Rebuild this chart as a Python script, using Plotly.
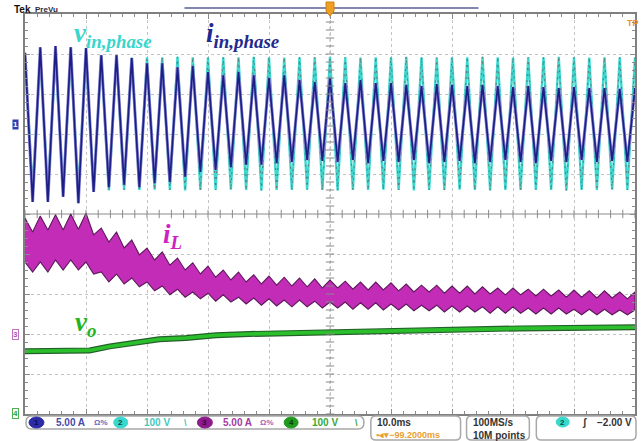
import numpy as np
import plotly.graph_objects as go

# ---------------- data ----------------
# time base 10 ms/div (0..100 ms); input is 400 Hz -> extrema every 1.25 ms
PERIOD = 2.5  # ms
t_pk = [PERIOD * k for k in range(41)]          # times of positive peaks
t_tr = [PERIOD * k + PERIOD / 2 for k in range(40)]  # times of negative peaks

# ch2: v_in,phase (V), peaks / troughs per cycle
vin_pk = [166, 167, 167, 166, 167, 168, 167, 166, 167, 167, 168, 167, 166, 167,
          167, 168, 167, 166, 167, 167, 168, 167, 166, 167, 167, 168, 167, 166,
          167, 167, 168, 167, 166, 167, 167, 168, 167, 166, 167, 167, 166]
vin_tr = [-165, -166, -165, -164, -165, -166, -165, -165, -164, -165, -166, -165,
          -165, -164, -165, -166, -165, -165, -164, -165, -166, -165, -165, -164,
          -165, -166, -165, -165, -164, -165, -166, -165, -165, -164, -165, -166,
          -165, -165, -164, -165]

# ch1: i_in,phase (A)
iin_pk = [8.9, 9.6, 9.75, 9.6, 9.5, 8.6, 8.6, 8.25, 7.6, 7.6, 7.1, 7.25, 6.5, 6.1,
          6.5, 6.1, 5.75, 6.1, 5.5, 5.25, 5.75, 5.1, 5.5, 5.1, 5.1, 4.9, 4.75, 5.0,
          4.9, 4.75, 4.9, 4.75, 4.6, 4.75, 4.6, 4.5, 4.6, 4.5, 4.5, 4.4, 4.5]
iin_tr = [-9.75, -9.75, -9.1, -9.9, -8.5, -7.9, -7.6, -7.9, -7.4, -7.25, -6.6, -6.0,
          -5.75, -5.4, -5.1, -5.1, -4.9, -4.75, -4.5, -4.6, -4.75, -4.5, -4.9, -4.6,
          -4.75, -4.5, -4.9, -4.75, -4.6, -4.9, -4.75, -4.5, -4.75, -4.9, -4.6, -4.75,
          -4.5, -4.75, -4.6, -4.75]

# ch3: i_L (A) ripple band: top/bottom edge at ripple highs and lows
iL_top_pk = [14.5, 14.75, 14.9, 15.0, 15.1, 13.25, 12.75, 11.75, 10.75, 10.25, 9.5,
             8.9, 8.5, 8.0, 7.75, 7.4, 7.25, 7.1, 7.0, 6.9, 6.75, 6.6, 6.5, 6.5, 6.4,
             6.25, 6.1, 6.1, 6.0, 6.0, 5.9, 5.75, 5.75, 5.6, 5.6, 5.5, 5.5, 5.4, 5.4,
             5.25, 5.25]
iL_top_dip = [12.75, 13.0, 13.0, 13.1, 12.4, 11.5, 10.75, 9.9, 9.25, 8.6, 8.0, 7.5,
              7.1, 6.75, 6.5, 6.25, 6.1, 6.0, 5.9, 5.75, 5.75, 5.6, 5.5, 5.5, 5.4,
              5.25, 5.25, 5.1, 5.1, 5.0, 5.0, 4.9, 4.9, 4.75, 4.75, 4.6, 4.6, 4.5,
              4.5, 4.4]
iL_bot_pk = [9.0, 9.0, 9.25, 9.25, 9.0, 7.75, 7.5, 7.0, 6.5, 6.0, 5.6, 5.25, 5.1, 4.9,
             4.6, 4.5, 4.4, 4.25, 4.25, 4.1, 4.0, 4.0, 3.9, 3.9, 3.75, 3.75, 3.6, 3.6,
             3.5, 3.5, 3.4, 3.4, 3.4, 3.25, 3.25, 3.25, 3.1, 3.1, 3.1, 3.0, 3.0]
iL_bot_dip = [7.75, 7.75, 8.0, 8.0, 7.5, 6.5, 6.25, 5.9, 5.4, 4.9, 4.6, 4.4, 4.1, 4.0,
              3.75, 3.6, 3.5, 3.4, 3.4, 3.25, 3.25, 3.1, 3.1, 3.0, 3.0, 2.9, 2.9, 2.75,
              2.75, 2.75, 2.6, 2.6, 2.6, 2.5, 2.5, 2.5, 2.4, 2.4, 2.4, 2.4]

# ch4: v_o (V)
vo_t = [0, 10.6, 13.9, 17.6, 22.0, 26.4, 31.3, 36.7, 42.1, 48.1, 64.8, 81.1, 100]
vo_v = [155, 157, 167, 175, 185, 188, 195, 198, 200, 202, 207, 212, 215]

# scope channel settings (scale per div, ground position in div)
CH1_SCALE, CH1_POS = 5.0, 2.25
CH2_SCALE, CH2_POS = 100.0, 2.25
CH3_SCALE, CH3_POS = 5.0, -3.0
CH4_SCALE, CH4_POS = 100.0, -4.98

# ---------------- helpers ----------------
def interleave(a, b):
    out = []
    for i in range(len(a)):
        out.append(a[i])
        if i < len(b):
            out.append(b[i])
    return out

t_all = interleave(t_pk, t_tr)
vin = interleave(vin_pk, vin_tr)
iin = interleave(iin_pk, iin_tr)
iL_top = interleave(iL_top_pk, iL_top_dip)
iL_bot = interleave(iL_bot_pk, iL_bot_dip)

L, R, T, B = 25, 637, 14, 414
def px(x):
    return (x - L) / (R - L)
def py(y):
    return (B - y) / (B - T)

fig = go.Figure()

# ch2 v_in (cyan, dotted look)
y_vin = [CH2_POS + v / CH2_SCALE for v in vin]
fig.add_trace(go.Scatter(x=t_all, y=y_vin, mode="lines",
                         line=dict(color="#3fd8cf", width=2.4), hoverinfo="skip"))
fig.add_trace(go.Scatter(x=t_all, y=y_vin, mode="lines",
                         line=dict(color="#4f8583", width=1.1, dash="2px,4px"), hoverinfo="skip"))

# ch1 i_in (dark blue)
y_iin = [CH1_POS + v / CH1_SCALE for v in iin]
fig.add_trace(go.Scatter(x=t_all, y=y_iin, mode="lines",
                         line=dict(color="#8c86d0", width=3.0), hoverinfo="skip"))
fig.add_trace(go.Scatter(x=t_all, y=y_iin, mode="lines",
                         line=dict(color="#1b1f86", width=1.7), hoverinfo="skip"))

# ch3 i_L band
band_x = t_all + t_all[::-1]
band_y = [CH3_POS + v / CH3_SCALE for v in iL_top] + \
         [CH3_POS + v / CH3_SCALE for v in iL_bot][::-1]
fig.add_trace(go.Scatter(x=band_x, y=band_y, mode="lines", fill="toself",
                         fillcolor="#c22cb6", line=dict(color="#5c1a5a", width=1.1),
                         hoverinfo="skip"))

# ch4 v_o
y_vo = [CH4_POS + v / CH4_SCALE for v in vo_v]
fig.add_trace(go.Scatter(x=vo_t, y=y_vo, mode="lines",
                         line=dict(color="#24602a", width=6), hoverinfo="skip"))
fig.add_trace(go.Scatter(x=vo_t, y=y_vo, mode="lines",
                         line=dict(color="#2bbf2b", width=3.6), hoverinfo="skip"))

# center-line ticks
tx = np.arange(0, 100.01, 2)
fig.add_trace(go.Scatter(x=tx, y=[0] * len(tx), mode="markers", cliponaxis=False,
                         marker=dict(symbol="line-ns", size=6,
                                     line=dict(color="#8a8a8a", width=1)),
                         hoverinfo="skip"))
ty = np.arange(-5, 5.01, 0.2)
fig.add_trace(go.Scatter(x=[50] * len(ty), y=ty, mode="markers", cliponaxis=False,
                         marker=dict(symbol="line-ew", size=6,
                                     line=dict(color="#8a8a8a", width=1)),
                         hoverinfo="skip"))

shapes = [
    dict(type="line", xref="x", yref="y", x0=0, x1=100, y0=0, y1=0,
         line=dict(color="#8a8a8a", width=1), layer="below"),
    dict(type="line", xref="x", yref="y", x0=50, x1=50, y0=-5, y1=5,
         line=dict(color="#b0b0b0", width=1, dash="dot"), layer="below"),
    # record-view bar at top
    dict(type="line", xref="paper", yref="paper", x0=px(185), x1=px(480),
         y0=py(8), y1=py(8), line=dict(color="#8088b0", width=2)),
    # trigger position marker
    dict(type="path", xref="paper", yref="paper",
         path=f"M {px(327)},{py(2)} L {px(335)},{py(2)} L {px(335)},{py(11)} "
              f"L {px(331)},{py(16)} L {px(327)},{py(11)} Z",
         fillcolor="#f0a020", line=dict(color="#d08010", width=1)),
]

def rrect(x0, y0, x1, y1, r, color="#a8a8a8"):
    def P(x, y):
        return f"{px(x):.5f},{py(y):.5f}"
    path = (f"M {P(x0 + r, y0)} L {P(x1 - r, y0)} Q {P(x1, y0)} {P(x1, y0 + r)} "
            f"L {P(x1, y1 - r)} Q {P(x1, y1)} {P(x1 - r, y1)} L {P(x0 + r, y1)} "
            f"Q {P(x0, y1)} {P(x0, y1 - r)} L {P(x0, y0 + r)} Q {P(x0, y0)} {P(x0 + r, y0)} Z")
    return dict(type="path", xref="paper", yref="paper", path=path,
                line=dict(color=color, width=1.5))

shapes += [rrect(26, 416, 365, 429, 6), rrect(372, 416, 462, 440, 5),
           rrect(468, 416, 531, 440, 5), rrect(538, 416, 638, 440, 5)]

def oval(x0, x1, y0, y1, color):
    return dict(type="circle", xref="paper", yref="paper", x0=px(x0), x1=px(x1),
                y0=py(y1), y1=py(y0), fillcolor=color, line=dict(color=color, width=1))

shapes += [oval(29, 44, 417, 428, "#2b2ba8"), oval(114, 128, 417, 428, "#38d8cc"),
           oval(198, 213, 417, 428, "#8c1a8c"), oval(285, 299, 417, 428, "#1f9a1f"),
           oval(558, 571, 417, 427, "#38d8cc")]

ann = []
def txt(x, y, s, size, color, anchor="left", family="Liberation Sans", **kw):
    ann.append(dict(xref="paper", yref="paper", x=px(x), y=py(y), text=s,
                    showarrow=False, xanchor=anchor, yanchor="middle",
                    font=dict(size=size, color=color, family=family), **kw))

SERIF = "Liberation Serif"
txt(72, 35, "<b><i>v<sub>in,phase</sub></i></b>", 27, "#3ad6cc", family=SERIF)
txt(205, 35, "<b><i>i<sub>in,phase</sub></i></b>", 27, "#1f2a8e", family=SERIF)
txt(161, 236, "<b><i>i<sub>L</sub></i></b>", 27, "#cf22c0", family=SERIF)
txt(73, 324, "<b><i>v<sub>o</sub></i></b>", 27, "#22b522", family=SERIF)

txt(12, 9, "<b>Tek</b>", 10, "#111111")
txt(33, 9, "<b>PreVu</b>", 8, "#2a2a40")
txt(627, 23, "<b>TP</b>", 9, "#f09020")

# status bar
txt(36.5, 422.5, "<b>1</b>", 8, "#0c0c50", anchor="center")
txt(121, 422.5, "<b>2</b>", 8, "#0d4a48", anchor="center")
txt(205.5, 422.5, "<b>3</b>", 8, "#3a083a", anchor="center")
txt(292, 422.5, "<b>4</b>", 8, "#083a08", anchor="center")
txt(54, 422.5, "<b>5.00 A</b>", 10, "#4a4aa8")
txt(92, 422.5, "<b>Ω%</b>", 8, "#6a6ab8")
txt(142, 422.5, "<b>100 V</b>", 10, "#46c8c0")
txt(183, 422.5, "<b>\\</b>", 9, "#46c8c0")
txt(222, 422.5, "<b>5.00 A</b>", 10, "#a23ca2")
txt(259, 422.5, "<b>Ω%</b>", 8, "#b05ab0")
txt(311, 422.5, "<b>100 V</b>", 10, "#38a838")
txt(354, 422.5, "<b>\\</b>", 9, "#38a838")
txt(376, 422, "<b>10.0ms</b>", 10, "#333333")
txt(375, 435, "<b>▪◂▾−99.2000ms</b>", 9, "#e8a030")
txt(472, 422, "<b>100MS/s</b>", 10, "#333333")
txt(472, 435, "<b>10M points</b>", 10, "#333333")
txt(564.5, 422, "<b>2</b>", 8, "#0d4a48", anchor="center")
txt(582, 422, "<b>ʃ</b>", 10, "#333333")
txt(636, 422, "<b>−2.00 V</b>", 10, "#333333", anchor="right")

# channel ground markers on the left
ann.append(dict(xref="paper", yref="y", x=px(15), y=CH1_POS, text="<b>1</b>",
                showarrow=False, font=dict(size=8, color="#ffffff", family="Liberation Sans"),
                bgcolor="#2f3fb0", borderpad=0, xanchor="center", yanchor="middle"))
ann.append(dict(xref="paper", yref="y", x=px(15), y=CH3_POS, text="<b>3</b>",
                showarrow=False, font=dict(size=8, color="#b050b0", family="Liberation Sans"),
                bordercolor="#c070c0", borderwidth=1, borderpad=0, bgcolor="#ffffff",
                xanchor="center", yanchor="middle"))
ann.append(dict(xref="paper", yref="y", x=px(15), y=CH4_POS, text="<b>4</b>",
                showarrow=False, font=dict(size=8, color="#30a030", family="Liberation Sans"),
                bordercolor="#50b050", borderwidth=1, borderpad=0, bgcolor="#ffffff",
                xanchor="center", yanchor="middle"))

axis_common = dict(showticklabels=False, showline=True, mirror="allticks",
                   linecolor="#808080", linewidth=1.5, ticks="inside", ticklen=5,
                   tickcolor="#8a8a8a", showgrid=True, gridcolor="#c4c4c4",
                   griddash="dot", gridwidth=1, zeroline=False, fixedrange=True)

fig.update_layout(
    width=644, height=441,
    margin=dict(l=L, r=644 - R, t=T, b=441 - B),
    paper_bgcolor="white", plot_bgcolor="white",
    showlegend=False,
    xaxis=dict(range=[0, 100], dtick=10, tick0=0,
               minor=dict(dtick=2, ticks="inside", ticklen=3, tickcolor="#8a8a8a",
                          showgrid=False),
               **axis_common),
    yaxis=dict(range=[-5, 5], dtick=1, tick0=0,
               minor=dict(dtick=0.2, ticks="inside", ticklen=3, tickcolor="#8a8a8a",
                          showgrid=False),
               **axis_common),
    shapes=shapes,
    annotations=ann,
)

fig.write_html("out.html")
